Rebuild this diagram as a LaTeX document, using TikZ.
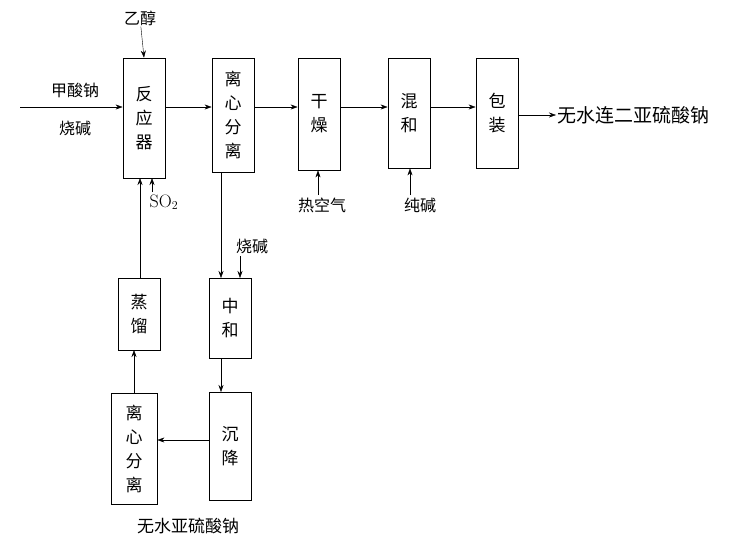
\documentclass[tikz,border=0pt]{standalone}
\usepackage{fontspec}
\newfontfamily\cjk{Noto Sans CJK SC}
\usetikzlibrary{arrows.meta}
\begin{document}
\begin{tikzpicture}[x=1pt,y=-1pt,
  box/.style={draw,thick,minimum width=42pt,inner sep=0pt,align=center,font=\cjk\fontsize{17}{24}\selectfont},
  lbl/.style={font=\cjk\fontsize{16}{18}\selectfont,inner sep=1pt},
  arr/.style={-{Stealth[length=7pt,width=5pt]},thin}]
\useasboundingbox (0,0) rectangle (750,558);
\node[box,minimum height=120pt] (r) at (144,118) {反\\应\\器};
\node[box,minimum height=114pt] (c1) at (233,115) {离\\心\\分\\离};
\node[box,minimum height=112pt] (d) at (319,114) {干\\燥};
\node[box,minimum height=110pt] (m) at (409,113) {混\\和};
\node[box,minimum height=110pt] (p) at (497,113) {包\\装};
\node[box,minimum height=80pt] (n) at (230,318) {中\\和};
\node[box,minimum height=108pt] (s) at (230,446) {沉\\降};
\node[box,minimum height=111pt,minimum width=46pt] (c2) at (134,449) {离\\心\\分\\离};
\node[box,minimum height=72pt] (z) at (139,314) {蒸\\馏};
\node[lbl] (e) at (140,18) {乙醇};
\node[lbl] (a1) at (75,90) {甲酸钠};
\node[lbl] (a2) at (75,128) {烧碱};
\coordinate (a0) at (20,107);
\node[lbl,font=\fontsize{18}{20}\selectfont] (so) at (164,202) {SO$_2$};
\node[lbl] (h) at (322,205) {热空气};
\node[lbl] (cj) at (420,205) {纯碱};
\node[lbl] (sj) at (252,246) {烧碱};
\node[lbl,anchor=west,font=\cjk\fontsize{19}{20}\selectfont] (out) at (556,115) {无水连二亚硫酸钠};
\node[lbl,font=\cjk\fontsize{17}{20}\selectfont] (b) at (188,526) {无水亚硫酸钠};
\draw[arr] (e) -- (r.north);
\draw[arr] (a0) -- (r.west |- a0);
\draw[arr] (r.east |- 0,107) -- (c1.west |- 0,107);
\draw[arr] (c1.east |- 0,107) -- (d.west |- 0,107);
\draw[arr] (d.east |- 0,107) -- (m.west |- 0,107);
\draw[arr] (m.east |- 0,107) -- (p.west |- 0,107);
\draw[arr] (p.east |- 0,115) -- (out.west);
\draw[arr] (152,192) -- (152,178);
\draw[arr] (z.north -| 140,0) -- (140,178);
\draw[arr] (318,195) -- (d.south -| 318,0);
\draw[arr] (410,195) -- (m.south -| 410,0);
\draw[arr] (221,172) -- (221,278);
\draw[arr] (240,256) -- (240,278);
\draw[arr] (221,358) -- (221,392);
\draw[arr] (s.west |- 0,440) -- (c2.east |- 0,440);
\draw[arr] (c2.north -| 134,0) -- (134,350);
\end{tikzpicture}
\end{document}
